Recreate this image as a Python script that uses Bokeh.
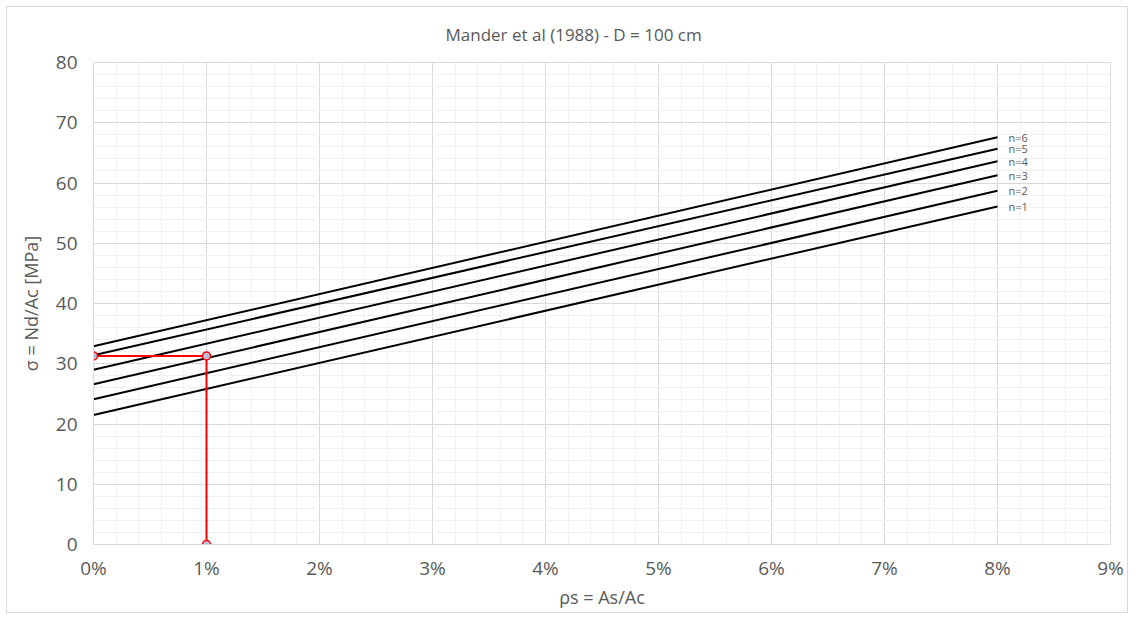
from bokeh.plotting import figure
from bokeh.models import Range1d, FixedTicker, PrintfTickFormatter, ColumnDataSource
from bokeh.core.properties import value
from bokeh.embed import file_html
from bokeh.resources import INLINE

# Data
rho = [0, 8]  # percent
series_names = ["n=1", "n=2", "n=3", "n=4", "n=5", "n=6"]
n1 = [21.5, 56.1]
n2 = [24.1, 58.7]
n3 = [26.6, 61.3]
n4 = [29.0, 63.6]
n5 = [31.4, 65.7]
n6 = [32.9, 67.6]
design_x = [0, 1, 1]
design_y = [31.3, 31.3, 0]
x_ticks = [0, 1, 2, 3, 4, 5, 6, 7, 8, 9]
y_ticks = [0, 10, 20, 30, 40, 50, 60, 70, 80]

FONT = "Open Sans"
GREY = "#595959"

p = figure(width=1120, height=606, output_backend="svg", toolbar_location=None,
           x_range=Range1d(0, 9), y_range=Range1d(0, 80),
           min_border_left=86, min_border_right=17, min_border_top=55, min_border_bottom=68,
           title="Mander et al (1988) - D = 100 cm")
p.frame_width = 1017
p.frame_height = 482
p.margin = (6, 0, 0, 6)

p.title.align = "left"
p.title.vertical_align = "top"
p.title.text_font = FONT
p.title.text_font_size = "17px"
p.title.text_font_style = "normal"
p.title.text_color = GREY
p.title.offset = 352
p.title.standoff = 30

for ax in (p.xaxis[0], p.yaxis[0]):
    ax.major_tick_line_color = None
    ax.minor_tick_line_color = None
    ax.axis_line_color = "#d9d9d9"
    ax.major_label_text_font = FONT
    ax.major_label_text_font_size = "19px"
    ax.major_label_text_color = GREY
    ax.axis_label_text_font = FONT
    ax.axis_label_text_font_size = "18px"
    ax.axis_label_text_font_style = "normal"
    ax.axis_label_text_color = GREY

p.xaxis.ticker = FixedTicker(ticks=x_ticks, minor_ticks=[i * 0.2 for i in range(46)])
p.yaxis.ticker = FixedTicker(ticks=y_ticks, minor_ticks=list(range(0, 81, 2)))
p.xaxis.formatter = PrintfTickFormatter(format="%d%%")
p.xaxis.axis_label = "ρs = As/Ac"
p.yaxis.axis_label = "σ = Nd/Ac [MPa]"
p.xaxis.major_label_standoff = 4
p.yaxis.major_label_standoff = 10
p.xaxis.axis_label_standoff = 1
p.yaxis.axis_label_standoff = 10

p.xgrid.grid_line_color = "#d9d9d9"
p.ygrid.grid_line_color = "#d9d9d9"
p.xgrid.minor_grid_line_color = "#f0f0f0"
p.ygrid.minor_grid_line_color = "#f0f0f0"
p.outline_line_color = "#d9d9d9"

all_series = [n1, n2, n3, n4, n5, n6]
for ys in all_series:
    p.line(rho, ys, line_color="black", line_width=2)

lab = ColumnDataSource(dict(x=[rho[-1]] * 6, y=[s[-1] for s in all_series], t=series_names))
p.text(x="x", y="y", text="t", source=lab, x_offset=11, text_baseline="middle",
       text_font=value(FONT), text_font_size="11px", text_color=GREY)

p.line(design_x, design_y, line_color="#ff0000", line_width=2)
p.scatter(design_x, design_y, size=8, fill_color="#b4c0d8", line_color="#ff0000", line_width=1.5)

p.styles = {"border": "1px solid #d9d9d9"}

open("out.html", "w").write(file_html(p, INLINE))
